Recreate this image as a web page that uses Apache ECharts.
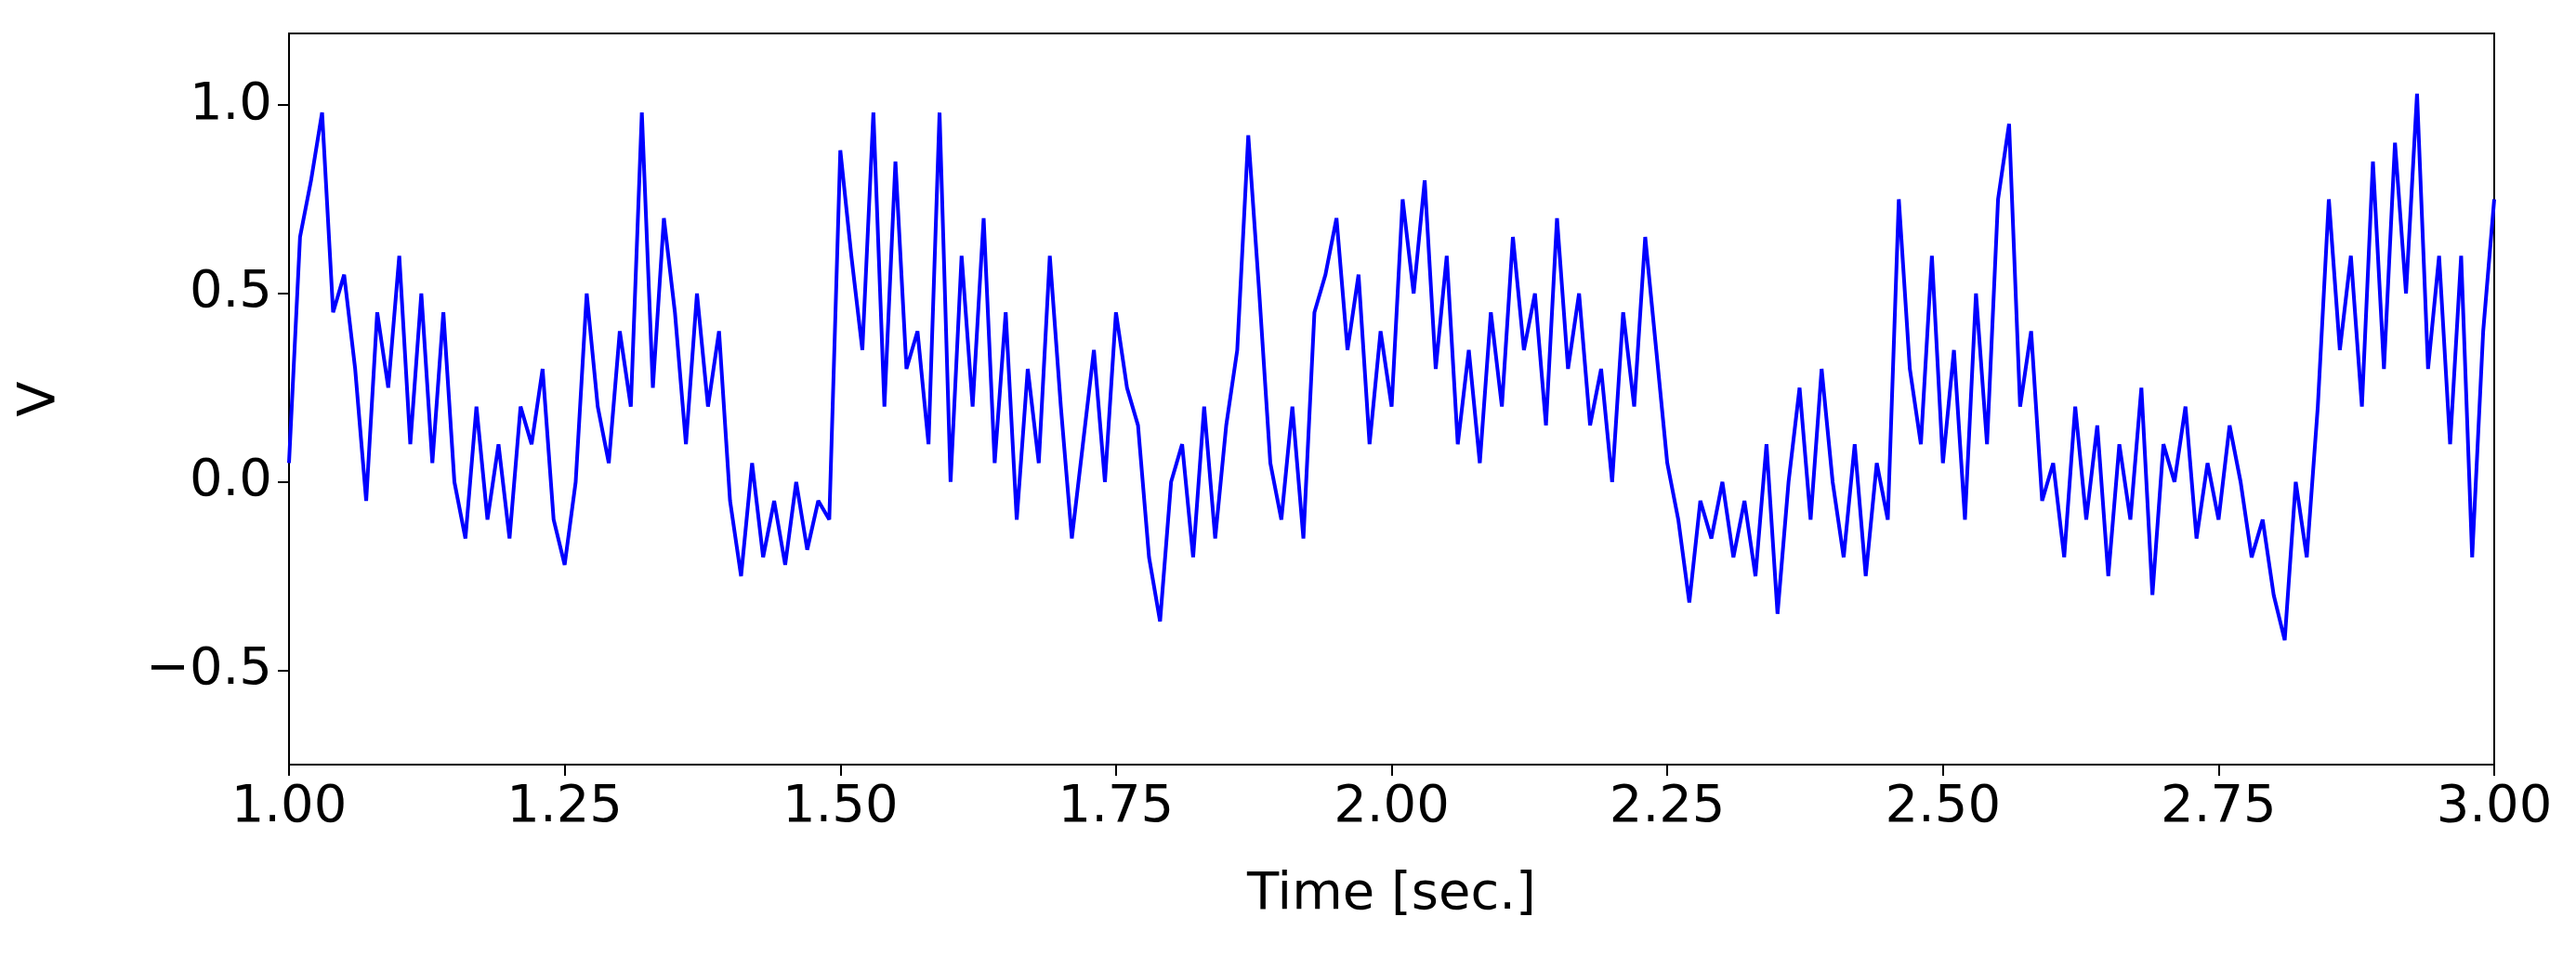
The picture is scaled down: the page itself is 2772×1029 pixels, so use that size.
<!DOCTYPE html>
<html><head><meta charset="utf-8">
<script src="https://cdn.jsdelivr.net/npm/echarts@6/dist/echarts.min.js"></script>
<style>html,body{margin:0;padding:0;background:#fff}#c{width:2772px;height:1029px}</style>
</head><body><div id="c"></div>
<script>
const tStart = 1.0, tStep = 0.01;
const values = [0.05,0.65,0.8,0.98,0.45,0.55,0.3,-0.05,0.45,0.25,
0.6,0.1,0.5,0.05,0.45,0.0,-0.15,0.2,-0.1,0.1,
-0.15,0.2,0.1,0.3,-0.1,-0.22,0.0,0.5,0.2,0.05,
0.4,0.2,0.98,0.25,0.7,0.45,0.1,0.5,0.2,0.4,
-0.05,-0.25,0.05,-0.2,-0.05,-0.22,0.0,-0.18,-0.05,-0.1,
0.88,0.6,0.35,0.98,0.2,0.85,0.3,0.4,0.1,0.98,
0.0,0.6,0.2,0.7,0.05,0.45,-0.1,0.3,0.05,0.6,
0.2,-0.15,0.1,0.35,0.0,0.45,0.25,0.15,-0.2,-0.37,
0.0,0.1,-0.2,0.2,-0.15,0.15,0.35,0.92,0.5,0.05,
-0.1,0.2,-0.15,0.45,0.55,0.7,0.35,0.55,0.1,0.4,
0.2,0.75,0.5,0.8,0.3,0.6,0.1,0.35,0.05,0.45,
0.2,0.65,0.35,0.5,0.15,0.7,0.3,0.5,0.15,0.3,
0.0,0.45,0.2,0.65,0.35,0.05,-0.1,-0.32,-0.05,-0.15,
0.0,-0.2,-0.05,-0.25,0.1,-0.35,0.0,0.25,-0.1,0.3,
0.0,-0.2,0.1,-0.25,0.05,-0.1,0.75,0.3,0.1,0.6,
0.05,0.35,-0.1,0.5,0.1,0.75,0.95,0.2,0.4,-0.05,
0.05,-0.2,0.2,-0.1,0.15,-0.25,0.1,-0.1,0.25,-0.3,
0.1,0.0,0.2,-0.15,0.05,-0.1,0.15,0.0,-0.2,-0.1,
-0.3,-0.42,0.0,-0.2,0.2,0.75,0.35,0.6,0.2,0.85,
0.3,0.9,0.5,1.03,0.3,0.6,0.1,0.6,-0.2,0.4,0.75];
const xTicks = [1.0,1.25,1.5,1.75,2.0,2.25,2.5,2.75,3.0];
const yTicks = [-0.5,0.0,0.5,1.0];
const data = values.map((v,i)=>[+(tStart+i*tStep).toFixed(2), v]);
const font = {fontFamily:'DejaVu Sans', fontSize:56, color:'#000'};
const axisLine = {show:true, onZero:false, lineStyle:{color:'#000', width:2}};
const chart = echarts.init(document.getElementById('c'));
chart.setOption({
  animation:false,
  grid:{left:311, right:88, top:36, bottom:206, show:true, borderColor:'#000', borderWidth:2},
  xAxis:{type:'value', min:1, max:3, interval:0.25,
    name:'Time [sec.]', nameLocation:'middle', nameGap:112, nameTextStyle:font,
    axisLine, splitLine:{show:false},
    axisTick:{show:true, length:12, inside:false, lineStyle:{color:'#000', width:2}},
    axisLabel:Object.assign({margin:18, formatter:v=>v.toFixed(2)}, font)},
  yAxis:{type:'value', min:-0.75, max:1.19,
    name:'V', nameLocation:'middle', nameGap:240, nameTextStyle:font,
    axisLine, splitLine:{show:false},
    axisTick:{show:true, length:12, lineStyle:{color:'#000', width:2}, customValues:yTicks},
    axisLabel:Object.assign({margin:18, customValues:yTicks, formatter:v=>(v<0?'\u2212':'')+Math.abs(v).toFixed(1)}, font)},
  series:[{type:'line', data, showSymbol:false, lineStyle:{color:'#0000ff', width:4}}]
});
</script></body></html>
